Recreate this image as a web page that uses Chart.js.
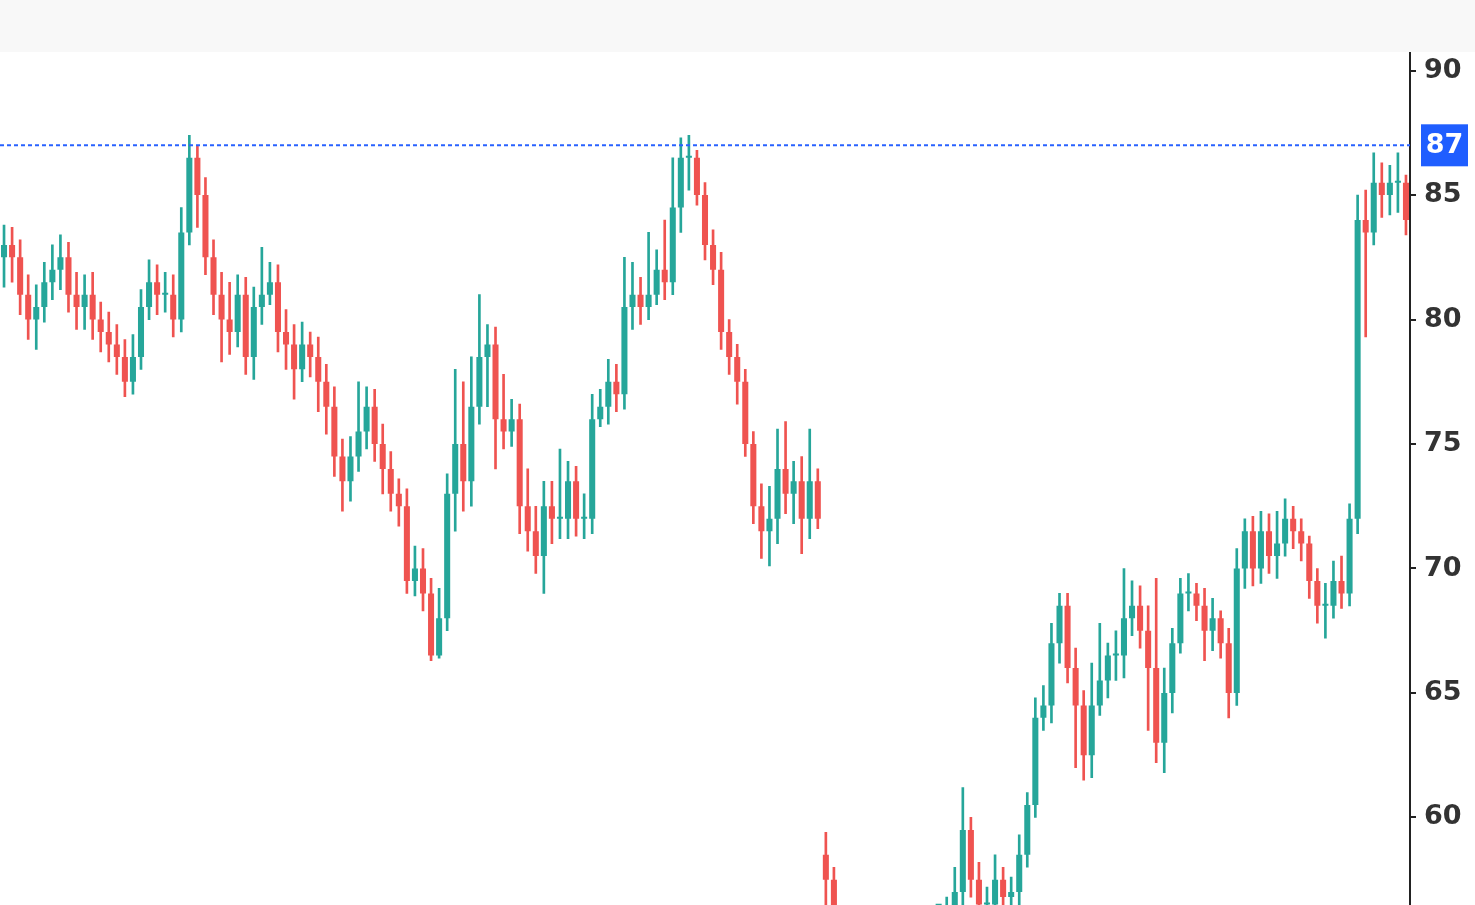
<!DOCTYPE html>
<html>
<head>
<meta charset="utf-8">
<script src="https://cdn.jsdelivr.net/npm/chart.js@4.4.0/dist/chart.umd.min.js"></script>
<style>
  html, body { margin: 0; padding: 0; background: #fff; overflow: hidden; }
  #band { height: 52px; background: #f8f8f8; position: relative; z-index: 2; }
  #wrap { width: 1475px; height: 853px; position: relative; }
  #inner { position: absolute; left: 0; top: -23px; width: 1475px; height: 901px; }
</style>
</head>
<body>
<div id="band"></div>
<div id="wrap"><div id="inner"><canvas id="chart"></canvas></div></div>
<script>
const opens = [82.5,83,82.5,81,80,80.5,81.5,82,82.5,81, 80.5,81,80,79.5,79,78.5,77.5,78.5,80.5,81.5, 81,81,80,83.5,86.5,85,82.5,81,80,79.5, 81,78.5,80.5,81,81.5,79.5,79,78,79,78.5, 77.5,76.5,74.5,73.5,74.5,75.5,76.5,75,74,73, 72.5,69.5,70,69,66.5,68,73,75,73.5,76.5, 78.5,79,76,75.5,76,72.5,71.5,70.5,72.5,72, 72,73.5,72,72,76,76.5,77.5,77,80.5,81, 80.5,81,82,81.5,84.5,86.5,86.5,85,83,82, 79.5,78.5,77.5,75,72.5,71.5,72,74,73,73.5, 72,73.5,58.5,57.5,55,54,53,52.5,53,52, 51.5,52,53,54,54.5,55,55.5,55.5,56,57, 59.5,57.5,56.5,56.5,57.5,56.8,57,58.5,60.5,64, 64.5,67,68.5,66,64.5,62.5,64.5,65.5,66.5,66.5, 68,68.5,67.5,66,63,65,67,69,69,68.5, 67.5,68,67,65,70,71.5,70,71.5,70.5,71, 72,71.5,71,69.5,68.5,68.5,69.5,69,72,84, 83.5,85.5,85,85.5,85.5];
const closes = [83,82.5,81,80,80.5,81.5,82,82.5,81,80.5, 81,80,79.5,79,78.5,77.5,78.5,80.5,81.5,81, 81,80,83.5,86.5,85,82.5,81,80,79.5,81, 78.5,80.5,81,81.5,79.5,79,78,79,78.5,77.5, 76.5,74.5,73.5,74.5,75.5,76.5,75,74,73,72.5, 69.5,70,69,66.5,68,73,75,73.5,76.5,78.5, 79,76,75.5,76,72.5,71.5,70.5,72.5,72,72, 73.5,72,72,76,76.5,77.5,77,80.5,81,80.5, 81,82,81.5,84.5,86.5,86.5,85,83,82,79.5, 78.5,77.5,75,72.5,71.5,72,74,73,73.5,72, 73.5,72,57.5,55,54,53,52.5,53,52,51.5, 52,53,54,54.5,55,55.5,55.5,56,57,59.5, 57.5,56.5,56.5,57.5,56.8,57,58.5,60.5,64,64.5, 67,68.5,66,64.5,62.5,64.5,65.5,66.5,66.5,68, 68.5,67.5,66,63,65,67,69,69,68.5,67.5, 68,67,65,70,71.5,70,71.5,70.5,71,72, 71.5,71,69.5,68.5,68.5,69.5,69,72,84,83.5, 85.5,85,85.5,85.5,84];
const highs = [83.8,83.7,83.2,81.8,81.4,82.3,83,83.4,83.1,81.9, 81.8,81.9,80.7,80.3,79.8,79.2,79.4,81.2,82.4,82.2, 81.9,81.8,84.5,87.4,87,85.7,83.2,81.9,81.5,81.8, 81.7,81.3,82.9,82.3,82.2,80.4,79.8,79.9,79.5,79.3, 78.2,77.3,75.2,75.3,77.5,77.3,77.2,75.8,74.7,73.6, 73.2,70.9,70.8,69.6,69.2,73.8,78,77.5,78.5,81, 79.8,79.7,77.8,76.8,76.6,74,72.5,73.5,73.5,74.8, 74.3,74.1,73,77,77.2,78.4,78.2,82.5,82.3,81.7, 83.5,82.8,84,86.5,87.3,87.4,86.8,85.5,83.6,82.7, 80,79,78,75.5,73.4,73.3,75.6,75.9,74.3,74.5, 75.6,74,59.4,58,55.6,54.8,54,54,54,53, 53,54,55,55,55.6,56.2,56.3,56.8,58,61.2, 60,58.2,57.2,58.5,58,57.6,59.3,61,64.8,65.3, 67.8,69,69,66.8,65.1,66.2,67.8,67,67.5,70, 69.5,69.3,68.5,69.6,66,67.6,69.6,69.8,69.4,69.2, 68.8,68.3,67.6,70.8,72,72.1,72.3,72.2,72.3,72.8, 72.5,72,71.3,70,69.4,70.3,70.5,72.6,85,85.2, 86.7,86.3,86.2,86.7,85.8];
const lows = [81.3,81.5,80.2,79.2,78.8,79.9,80.8,81.2,80.3,79.6, 79.6,79.2,78.7,78.3,77.8,76.9,77,78,80,80.2, 80.3,79.3,79.5,83,83.7,81.8,80.2,78.3,78.6,78.9, 77.8,77.6,79.8,80.6,78.7,78,76.8,77.5,77.7,76.3, 75.4,73.7,72.3,72.7,73.9,74.8,74.3,73,72.3,71.7, 69,68.9,68.3,66.3,66.4,67.5,71.5,72.3,72.5,75.8, 76.5,74,74.8,74.9,71.4,70.7,69.8,69,71,71.2, 71.2,71.3,71.2,71.4,75.7,75.8,76.3,76.4,79.6,79.8, 80,80.6,80.8,81,83.5,85.2,84.6,82.4,81.4,78.8, 77.8,76.6,74.5,71.8,70.4,70.1,71,72.2,71.8,70.6, 71.2,71.6,56.5,54.4,53.4,52.4,51.8,52,51.3,50.8, 51.2,51.5,52.5,53.5,54,54.6,55,55,55.4,56.5, 56.8,55.8,55.9,55.8,56.2,56.2,56.4,58,60,63.5, 63.8,66.2,65.4,62,61.5,61.6,64.1,64.8,65.5,65.6, 67.3,66.8,63.5,62.2,61.8,64.2,66.6,68.3,67.9,66.3, 66.7,66.4,64,64.5,69.2,69.3,69.4,69.8,69.6,70.5, 70.8,70.3,68.8,67.8,67.2,68,68.4,68.5,71.4,79.3, 83,84.1,84.2,84.3,83.4];
const lastPrice = 87;
const yTicks = [60, 65, 70, 75, 80, 85, 90];

const UP = '#26a69a', DOWN = '#ef5350';
const labels = opens.map((_, i) => i);
const colors = opens.map((o, i) => closes[i] >= o ? UP : DOWN);

const priceLine = {
  id: 'priceLine',
  afterDatasetsDraw(chart) {
    const { ctx, chartArea, scales } = chart;
    const y = scales.y.getPixelForValue(lastPrice);
    ctx.save();
    ctx.strokeStyle = '#2962ff';
    ctx.lineWidth = 2;
    ctx.setLineDash([4, 3]);
    ctx.beginPath();
    ctx.moveTo(chartArea.left, y);
    ctx.lineTo(chartArea.right, y);
    ctx.stroke();
    ctx.setLineDash([]);
    ctx.fillStyle = '#1f5eff';
    ctx.fillRect(chartArea.right + 11, y - 21, 47, 42);
    ctx.fillStyle = '#fff';
    ctx.font = 'bold 27px "DejaVu Sans"';
    ctx.textAlign = 'center';
    ctx.textBaseline = 'middle';
    ctx.fillText(String(lastPrice), chartArea.right + 34.5, y + 1);
    ctx.restore();
  }
};

new Chart(document.getElementById('chart'), {
  type: 'bar',
  data: {
    labels,
    datasets: [
      { data: lows.map((l, i) => [l, highs[i]]), backgroundColor: colors, barThickness: 2, grouped: false, order: 2 },
      { data: opens.map((o, i) => [o, closes[i]]), backgroundColor: colors, barPercentage: 0.75, categoryPercentage: 1, minBarLength: 2, grouped: false, order: 1 }
    ]
  },
  options: {
    responsive: true,
    maintainAspectRatio: false,
    animation: false,
    layout: { padding: 0 },
    plugins: { legend: { display: false }, tooltip: { enabled: false } },
    scales: {
      x: { display: false, offset: true },
      y: {
        position: 'right',
        min: 56.45,
        max: 90.7,
        afterBuildTicks: (axis) => { axis.ticks = yTicks.map(v => ({ value: v })); },
        afterFit: (axis) => { axis.width = 65; },
        border: { display: true, color: '#222', width: 2 },
        grid: { drawOnChartArea: false, tickLength: 6, color: '#222', lineWidth: 2 },
        ticks: { color: '#333', padding: 8, font: { family: 'DejaVu Sans', size: 27, weight: 'bold' } }
      }
    }
  },
  plugins: [priceLine]
});
</script>
</body>
</html>
